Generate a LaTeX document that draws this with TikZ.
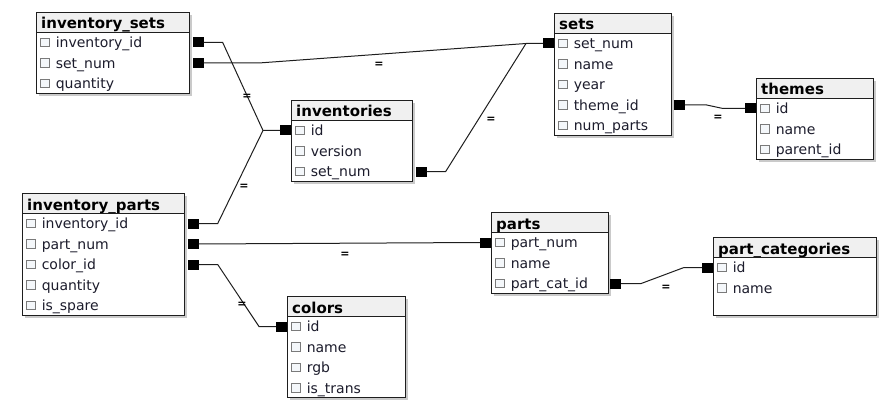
\documentclass[tikz,border=0pt]{standalone}
\usepackage{fontspec}
\setmainfont{DejaVu Sans}
\usetikzlibrary{calc,shadows}

\definecolor{edge}{HTML}{1E1E1E}
\definecolor{headbg}{HTML}{F0F0F0}
\definecolor{chkbg}{HTML}{F4F7FA}
\definecolor{chkln}{HTML}{7A7A7A}
\definecolor{fldtxt}{HTML}{1C1C2C}

\tikzset{
  tbl/.style={draw=edge, line width=1.2pt, fill=white, anchor=north west, inner sep=0pt,
    drop shadow={shadow xshift=2pt, shadow yshift=-2pt, fill=black!35, opacity=.6}},
  ttl/.style={anchor=west, inner sep=0pt, text height=11pt, text depth=0pt,
    font=\fontsize{15}{18}\selectfont\bfseries},
  chk/.style={draw=chkln, fill=chkbg, line width=.6pt, minimum size=8.5pt, inner sep=0pt},
  fld/.style={anchor=west, inner sep=0pt, text height=10.5pt, text depth=0pt,
    font=\fontsize{14}{17}\selectfont, text=fldtxt},
  key/.style={fill=black, minimum width=11pt, minimum height=10pt, inner sep=0pt, outer sep=0pt},
  conn/.style={draw=edge, line width=1pt},
  eq/.style={inner sep=0pt, font=\fontsize{11}{13}\selectfont\bfseries, text=black},
}

% #1 name, #2 x, #3 y, #4 width, #5 height, #6 title, #7 fields
\newcommand{\dbtable}[7]{%
  \node[tbl, minimum width=#4, minimum height=#5] (#1) at (#2,#3) {};
  \fill[headbg] ([shift={(1.2pt,-1.2pt)}]#1.north west) rectangle ([shift={(-1.2pt,-20pt)}]#1.north east);
  \node[ttl] (#1-t) at ([shift={(5pt,-11.5pt)}]#1.north west) {#6};
  \draw[edge, line width=1.3pt] ([yshift=-20.2pt]#1.north west) -- ([yshift=-20.2pt]#1.north east);
  \foreach \f [count=\i] in {#7} {
    \node[chk] (#1-c\i) at ([shift={(9pt,-10pt-20.5pt*\i)}]#1.north west) {};
    \node[fld] (#1-\i) at ([xshift=6pt]#1-c\i.east) {\f};
  }
}

\begin{document}
\begin{tikzpicture}[x=1pt, y=-1pt]
\useasboundingbox (0,0) rectangle (891,409);

% tables
\dbtable{isets}{36}{12}{153}{81}{inventory\_sets}{inventory\_id, set\_num, quantity}
\dbtable{inv}{291}{100}{121}{81}{inventories}{id, version, set\_num}
\dbtable{sets}{554}{13}{117}{122}{sets}{set\_num, name, year, theme\_id, num\_parts}
\dbtable{themes}{756}{78}{117}{81}{themes}{id, name, parent\_id}
\dbtable{iparts}{22}{193}{162}{122}{inventory\_parts}{inventory\_id, part\_num, color\_id, quantity, is\_spare}
\dbtable{colors}{287}{296}{118}{101}{colors}{id, name, rgb, is\_trans}
\dbtable{parts}{491}{212}{117}{81}{parts}{part\_num, name, part\_cat\_id}
\dbtable{pcat}{713}{237}{163}{78}{part\_categories}{id, name}

% key ends
\node[key, anchor=west, xshift=2.5pt] (isets-k1) at (isets.east |- isets-c1) {};
\node[key, anchor=west, xshift=2.5pt] (isets-k2) at (isets.east |- isets-c2) {};
\node[key, anchor=east] (inv-k1) at (inv.west |- inv-c1) {};
\node[key, anchor=west, xshift=2.5pt] (inv-k3) at (inv.east |- inv-c3) {};
\node[key, anchor=east] (sets-k1) at (sets.west |- sets-c1) {};
\node[key, anchor=west, xshift=1.5pt] (sets-k4) at (sets.east |- sets-c4) {};
\node[key, anchor=east] (themes-k1) at (themes.west |- themes-c1) {};
\node[key, anchor=west, xshift=2.5pt] (iparts-k1) at (iparts.east |- iparts-c1) {};
\node[key, anchor=west, xshift=2.5pt] (iparts-k2) at (iparts.east |- iparts-c2) {};
\node[key, anchor=west, xshift=2.5pt] (iparts-k3) at (iparts.east |- iparts-c3) {};
\node[key, anchor=east] (colors-k1) at (colors.west |- colors-c1) {};
\node[key, anchor=east] (parts-k1) at (parts.west |- parts-c1) {};
\node[key, anchor=west, xshift=1pt] (parts-k3) at (parts.east |- parts-c3) {};
\node[key, anchor=east] (pcat-k1) at (pcat.west |- pcat-c1) {};

% joints
\coordinate (j1) at ([xshift=-17pt]inv-k1.west);
\coordinate (j2) at ([xshift=-17pt]sets-k1.west);
\coordinate (j3) at ([xshift=-17pt]colors-k1.west);

% links
\draw[conn] (isets-k1.east) -- ++(19,0) -- (j1) -- (inv-k1.west);
\draw[conn] (iparts-k1.east) -- ++(19,0) -- (j1);
\draw[conn] (isets-k2.east) -- ++(55,0) -- (j2) -- (sets-k1.west);
\draw[conn] (inv-k3.east) -- ++(19,0) -- (j2);
\draw[conn] (iparts-k2.east) -- (parts-k1.west);
\draw[conn] (iparts-k3.east) -- ++(19,0) -- (j3) -- (colors-k1.west);
\draw[conn] (sets-k4.east) -- ++(22,0) -- ([xshift=-22pt]themes-k1.west) -- (themes-k1.west);
\draw[conn] (parts-k3.east) -- ++(20,0) -- ([xshift=-18pt]pcat-k1.west) -- (pcat-k1.west);

% join marks
\node[eq] (e1) at (247,97) {=};
\node[eq] (e2) at (379,65) {=};
\node[eq] (e3) at (491,120) {=};
\node[eq] (e4) at (244,187) {=};
\node[eq] (e5) at (345,255) {=};
\node[eq] (e6) at (242,305) {=};
\node[eq] (e7) at (718,118) {=};
\node[eq] (e8) at (666,288) {=};
\end{tikzpicture}
\end{document}
